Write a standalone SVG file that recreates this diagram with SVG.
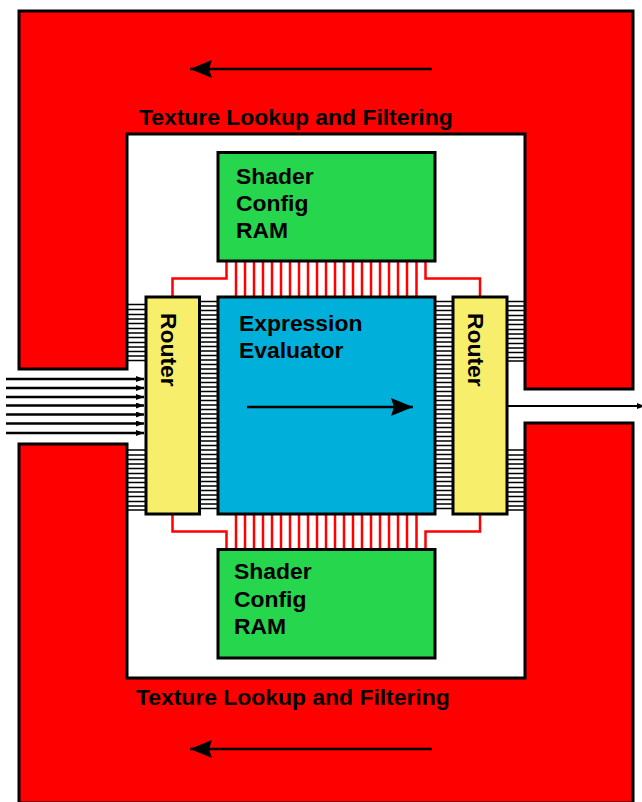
<svg xmlns="http://www.w3.org/2000/svg" width="642" height="802" viewBox="0 0 642 802">
<style>
.box{stroke:#000;stroke-width:3}
.red{fill:#f00}
.green{fill:#26d64c}
.yellow{fill:#f7ef6c}
.blue{fill:#00b0da}
text{font-family:"Liberation Sans",Arial,sans-serif;font-weight:700;font-size:22.9px;fill:#000}
.bus{fill:none;stroke:#000;stroke-width:1.3}
.rw{fill:none;stroke:#f00;stroke-width:2.5}
.arr{fill:none;stroke:#000;stroke-width:2.4}
.big{fill:none;stroke:#000;stroke-width:2.6}
</style>
<defs>
<marker id="a" markerUnits="userSpaceOnUse" markerWidth="10" markerHeight="8" refX="8" refY="3" orient="auto"><path d="M0 0L8 3L0 6Z"/></marker>
<marker id="b" markerUnits="userSpaceOnUse" markerWidth="24" markerHeight="20" refX="22" refY="9" orient="auto"><path d="M0 0L22 9L0 18L3 9Z"/></marker>
</defs>
<g id="texture-top"><path class="box red" d="M19 11H633V389H525V134H127V369H19Z"/><text x="139" y="125">Texture Lookup and Filtering</text></g>
<g id="texture-bottom"><path class="box red" d="M19 444H127V678H525V423H633V803H19Z"/><text x="136" y="705">Texture Lookup and Filtering</text></g>
<g id="connectors">
<path class="bus" d="M128 304.500H145M128 309.500H145M128 314.500H145M128 319H145M128 323.500H145M128 328.500H145M128 333H145M128 337.500H145M128 342.500H145M128 347H145M128 351.500H145M128 356H145M128 360.500H145M128 450H145M128 455H145M128 459.500H145M128 464H145M128 468.500H145M128 473.500H145M128 478H145M128 482.500H145M128 487.500H145M128 492H145M128 496.500H145M128 501.500H145M128 506H145M128 510H145"/>
<path class="bus" d="M508 301.500H525M508 306H525M508 310.500H525M508 315.500H525M508 320H525M508 324.500H525M508 329.500H525M508 334H525M508 338.500H525M508 343.500H525M508 348H525M508 352.500H525M508 357.500H525M508 361H525M508 450H525M508 455H525M508 459.500H525M508 464H525M508 468.500H525M508 473.500H525M508 478H525M508 482.500H525M508 487.500H525M508 492H525M508 496.500H525M508 501.500H525M508 506H525M508 510H525"/>
<path id="left-bus" class="bus" d="M201 301.500H217M201 306H217M201 310.500H217M201 315H217M201 319.500H217M201 324H217M201 328.500H217M201 333H217M201 337.500H217M201 342H217M201 346.500H217M201 351H217M201 355.500H217M201 360H217M201 364.500H217M201 369H217M201 373.500H217M201 378H217M201 382.500H217M201 387H217M201 391.500H217M201 396H217M201 400.500H217M201 405H217M201 409.500H217M201 414H217M201 418.500H217M201 423H217M201 427.500H217M201 432H217M201 436.500H217M201 441H217M201 445.500H217M201 450H217M201 454.500H217M201 459H217M201 463.500H217M201 468H217M201 472.500H217M201 477H217M201 481.500H217M201 486H217M201 490.500H217M201 495H217M201 499.500H217M201 504H217M201 508.500H217"/>
<path id="right-bus" class="bus" d="M436 301.500H452M436 306H452M436 310.500H452M436 315H452M436 319.500H452M436 324H452M436 328.500H452M436 333H452M436 337.500H452M436 342H452M436 346.500H452M436 351H452M436 355.500H452M436 360H452M436 364.500H452M436 369H452M436 373.500H452M436 378H452M436 382.500H452M436 387H452M436 391.500H452M436 396H452M436 400.500H452M436 405H452M436 409.500H452M436 414H452M436 418.500H452M436 423H452M436 427.500H452M436 432H452M436 436.500H452M436 441H452M436 445.500H452M436 450H452M436 454.500H452M436 459H452M436 463.500H452M436 468H452M436 472.500H452M436 477H452M436 481.500H452M436 486H452M436 490.500H452M436 495H452M436 499.500H452M436 504H452M436 508.500H452"/>
<path class="rw" d="M236 262V296M245 262V296M254 262V296M263 262V296M272 262V296M281 262V296M290 262V296M299 262V296M308 262V296M317 262V296M326 262V296M335 262V296M344 262V296M353 262V296M362 262V296M371 262V296M380 262V296M389 262V296M398 262V296M407 262V296M416.500 262V296"/>
<path class="rw" d="M236 515V549M245 515V549M254 515V549M263 515V549M272 515V549M281 515V549M290 515V549M299 515V549M308 515V549M317 515V549M326 515V549M335 515V549M344 515V549M353 515V549M362 515V549M371 515V549M380 515V549M389 515V549M398 515V549M407 515V549M416.500 515V549"/>
<path class="rw" d="M226.500 262V278.500H172.500V296M425.500 262V278.500H480V296M172.500 515V531.500H226.500V549M480 515V531.500H425.500V549"/>
<path class="arr" marker-end="url(#a)" d="M6 379H144"/>
<path class="arr" marker-end="url(#a)" d="M6 388H144"/>
<path class="arr" marker-end="url(#a)" d="M6 397H144"/>
<path class="arr" marker-end="url(#a)" d="M6 405.500H144"/>
<path class="arr" marker-end="url(#a)" d="M6 414.500H144"/>
<path class="arr" marker-end="url(#a)" d="M6 423.500H144"/>
<path class="arr" marker-end="url(#a)" d="M6 433H144"/>
<path class="arr" style="stroke-width:2" marker-end="url(#a)" d="M508 406H645"/>
</g>
<g id="ram-top"><rect class="box green" x="218" y="152.500" width="217" height="108.500"/><text x="236" y="184">Shader</text><text x="236" y="211">Config</text><text x="236" y="238">RAM</text></g>
<g id="ram-bottom"><rect class="box green" x="218" y="549.500" width="217" height="108.500"/><text x="234" y="579">Shader</text><text x="234" y="607">Config</text><text x="234" y="634">RAM</text></g>
<g id="router-left"><rect class="box yellow" x="146" y="297" width="53.500" height="217"/><text transform="translate(161 313) rotate(90)">Router</text></g>
<g id="router-right"><rect class="box yellow" x="453" y="297" width="54" height="217"/><text transform="translate(468 313) rotate(90)">Router</text></g>
<g id="evaluator"><rect class="box blue" x="218" y="297" width="217" height="217"/><text x="239" y="331">Expression</text><text x="239" y="358">Evaluator</text><path class="big" marker-end="url(#b)" d="M247 407H413"/></g>
<g id="flow-arrows"><path class="big" marker-end="url(#b)" d="M432 69H190"/><path class="big" marker-end="url(#b)" d="M432 749H190"/></g>
</svg>
